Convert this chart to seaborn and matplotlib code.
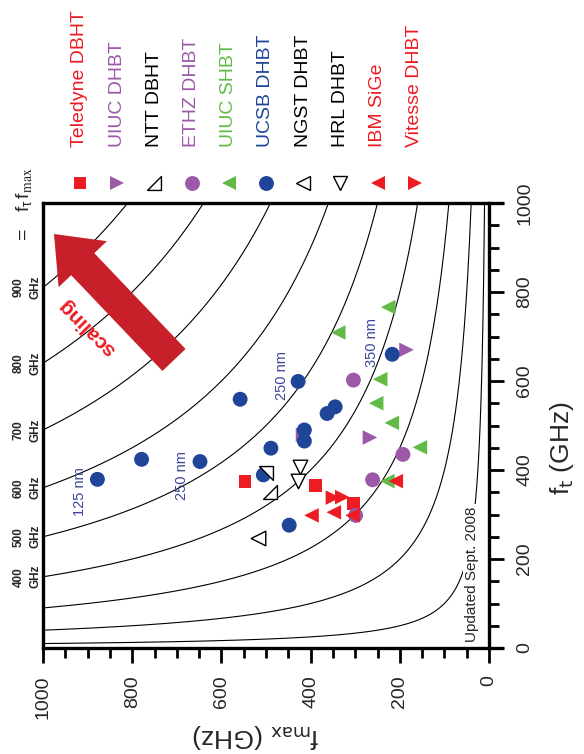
import numpy as np
import matplotlib
matplotlib.use("Agg")
import matplotlib.pyplot as plt
import seaborn as sns
from matplotlib.lines import Line2D
from matplotlib.patches import FancyArrowPatch
from matplotlib.ticker import MultipleLocator

# ── data (GHz) ────────────────────────────────────────────────
teledyne_fmax = [547, 389, 304]
teledyne_ft = [375, 365, 325]

uiuc_dhbt_fmax = [417, 185, 267]
uiuc_dhbt_ft = [479, 670, 473]

ntt_fmax = [491]
ntt_ft = [351]
ntt_b_fmax = [501]          # second NTT point, drawn with flipped triangle
ntt_b_ft = [394]

ethz_fmax = [304, 193, 261, 299]
ethz_ft = [602, 435, 378, 298]

uiuc_shbt_fmax = [226, 338, 244, 253, 218, 155, 228]
uiuc_shbt_ft = [766, 709, 604, 550, 506, 451, 375]

ucsb_fmax = [878, 779, 648, 558, 428, 414, 414, 489, 506, 448, 363, 345, 217]
ucsb_ft = [379, 424, 419, 559, 599, 490, 465, 449, 389, 276, 527, 542, 660]

ngst_fmax = [517]
ngst_ft = [247]

hrl_fmax = [424, 429]
hrl_ft = [407, 375]

ibm_fmax = [398, 348, 306, 209]
ibm_ft = [298, 305, 298, 375]

vitesse_fmax = [350, 329]
vitesse_ft = [338, 339]

iso_values = [100, 200, 300, 400, 500, 600, 700, 800, 900]
iso_labels = [400, 500, 600, 700, 800, 900]

legend_names = ["Teledyne DBHT", "UIUC DHBT", "NTT DBHT", "ETHZ DHBT", "UIUC SHBT",
                "UCSB DHBT", "NGST DHBT", "HRL DHBT", "IBM SiGe", "Vitesse DHBT"]

x_ticks = [0, 200, 400, 600, 800, 1000]
y_ticks = [0, 200, 400, 600, 800, 1000]

# ── styles ────────────────────────────────────────────────────
RED = "#ED1C24"
PURPLE = "#9B59A8"
GREEN = "#62BB46"
BLUE = "#1E4597"
NMBLUE = "#3D4499"
ARROW = "#C8202A"

tri_br = [(-1, -1), (1, -1), (1, 1), (-1, -1)]   # right angle bottom-right
tri_tr = [(-1, 1), (1, 1), (1, -1), (-1, 1)]     # right angle top-right

styles = {
    "Teledyne DBHT": dict(marker="s", s=85, color=RED, edgecolor="none", lw=0),
    "UIUC DHBT": dict(marker=">", s=110, color=PURPLE, edgecolor="none", lw=0),
    "NTT DBHT": dict(marker=tri_br, s=100, color="white", edgecolor="black", lw=1.0),
    "ETHZ DHBT": dict(marker="o", s=115, color=PURPLE, edgecolor="none", lw=0),
    "UIUC SHBT": dict(marker="<", s=110, color=GREEN, edgecolor="none", lw=0),
    "UCSB DHBT": dict(marker="o", s=115, color=BLUE, edgecolor="none", lw=0),
    "NGST DHBT": dict(marker="<", s=110, color="white", edgecolor="black", lw=1.0),
    "HRL DHBT": dict(marker="v", s=110, color="white", edgecolor="black", lw=1.0),
    "IBM SiGe": dict(marker="<", s=110, color=RED, edgecolor="none", lw=0),
    "Vitesse DHBT": dict(marker=">", s=110, color=RED, edgecolor="none", lw=0),
}
label_colors = [RED, PURPLE, "black", PURPLE, GREEN, BLUE, "black", "black", RED, RED]

sns.set_style("ticks")
plt.rcParams["font.family"] = ["Liberation Sans", "DejaVu Sans"]
plt.rcParams["mathtext.default"] = "regular"

W, H = 584, 754
fig = plt.figure(figsize=(W / 100, H / 100), dpi=100)


def fx(x):
    return x / W


def fy(y):
    return 1 - y / H


# axes: fmax runs right-to-left along the bottom, ft bottom-to-top on the right
ax = fig.add_axes([fx(43), fy(648), (502.4 - 43) / W, 445 / H])

# ── iso-curves sqrt(ft * fmax) = const ────────────────────────
for c in iso_values:
    fm = np.linspace(c ** 2 / 1000, 1000, 500)
    ax.plot(fm, c ** 2 / fm, color="black", lw=0.8, zorder=1)

# ── data points (draw order sets overlaps) ────────────────────
series = [
    ("Teledyne DBHT", teledyne_fmax, teledyne_ft),
    ("UIUC DHBT", uiuc_dhbt_fmax, uiuc_dhbt_ft),
    ("ETHZ DHBT", ethz_fmax, ethz_ft),
    ("UIUC SHBT", uiuc_shbt_fmax, uiuc_shbt_ft),
    ("UCSB DHBT", ucsb_fmax, ucsb_ft),
    ("NTT DBHT", ntt_fmax, ntt_ft),
    ("NGST DHBT", ngst_fmax, ngst_ft),
    ("HRL DHBT", hrl_fmax, hrl_ft),
    ("IBM SiGe", ibm_fmax, ibm_ft),
    ("Vitesse DHBT", vitesse_fmax, vitesse_ft),
]
for z, (name, fm, ft) in enumerate(series):
    st = styles[name]
    sns.scatterplot(x=fm, y=ft, ax=ax, marker=st["marker"], s=st["s"],
                    color=st["color"], edgecolor=st["edgecolor"],
                    linewidth=st["lw"], zorder=3 + z, legend=False)
    if name == "NTT DBHT":
        sns.scatterplot(x=ntt_b_fmax, y=ntt_b_ft, ax=ax, marker=tri_tr, s=st["s"],
                        color="white", edgecolor="black", linewidth=1.0,
                        zorder=3 + z, legend=False)

# ── axes, spines, ticks ───────────────────────────────────────
ax.set_xlim(1000, -30)
ax.set_ylim(0, 1000)
ax.spines["right"].set_position(("data", 0))
for sp in ax.spines.values():
    sp.set_linewidth(2.4)
    sp.set_color("black")
ax.yaxis.tick_right()
ax.set_xticks(x_ticks)
ax.set_yticks(y_ticks)
ax.xaxis.set_minor_locator(MultipleLocator(50))
ax.yaxis.set_minor_locator(MultipleLocator(50))
ax.tick_params(which="both", direction="out", width=2.0, color="black",
               labelsize=14, pad=8.5)
ax.tick_params(which="major", length=11)
ax.tick_params(which="minor", length=7.5)
ax.tick_params(axis="x", labelrotation=90)
ax.tick_params(axis="y", labelrotation=90, left=False, right=True)
for lab in ax.get_yticklabels():
    lab.set_va("center")
ax.set_xlabel("")
ax.set_ylabel("")

fig.text(fx(562), fy(448), r"f$_{\rm t}$ (GHz)", rotation=90, ha="center",
         va="center", fontsize=19)
fig.text(fx(256), fy(736), r"f$_{\rm max}$ (GHz)", rotation=180, ha="center",
         va="center", fontsize=19)

# ── legend row along the top ──────────────────────────────────
for i, name in enumerate(legend_names):
    st = styles[name]
    x = 80 + 37.2 * i
    fig.text(fx(x), fy(147), name, rotation=90, ha="center", va="bottom",
             color=label_colors[i], fontsize=14)
    fig.add_artist(Line2D([fx(x)], [fy(183)], transform=fig.transFigure,
                          marker=st["marker"], markersize=np.sqrt(st["s"]),
                          markerfacecolor=st["color"],
                          markeredgecolor=st["edgecolor"] if st["lw"] else st["color"],
                          markeredgewidth=st["lw"], linestyle="none"))

fig.text(fx(24), fy(243), r"$=\quad f_\tau\, f_{\max}$", rotation=90,
         ha="center", va="bottom", fontsize=14, math_fontfamily="stix")

# curve labels on the left edge, where each curve meets fmax = 1000
for c in iso_labels:
    y_px = 648 - (c ** 2 / 1000) * 0.445
    fig.text(fx(27), fy(y_px), f"{c}\nGHz", rotation=90, ha="center",
             va="center", fontsize=8.5, fontweight="bold", linespacing=1.45)

# ── annotations ───────────────────────────────────────────────
nm_font = ["Liberation Sans Narrow", "Liberation Sans"]
for txt, xp, yp in [("125 nm", 80, 492), ("250 nm", 182, 475),
                    ("250 nm", 282, 375), ("350 nm", 372, 343)]:
    fig.text(fx(xp), fy(yp), txt, rotation=90, ha="center", va="center",
             color=NMBLUE, fontsize=10.5, family=nm_font)

fig.text(fx(472), fy(574), "Updated Sept. 2008", rotation=90, ha="center",
         va="center", fontsize=11,
         bbox=dict(facecolor="white", edgecolor="none", pad=1.5))

arrow = FancyArrowPatch((fx(174), fy(360)), (fx(54), fy(234)),
                        transform=fig.transFigure,
                        arrowstyle="simple,head_length=30,head_width=48,tail_width=23",
                        mutation_scale=1, shrinkA=0, shrinkB=0,
                        color=ARROW, lw=0)
fig.add_artist(arrow)
fig.text(fx(87), fy(327), "scaling", rotation=135, ha="center", va="center",
         color=RED, fontsize=15, fontweight="bold")

plt.savefig("out.png", dpi=100)
